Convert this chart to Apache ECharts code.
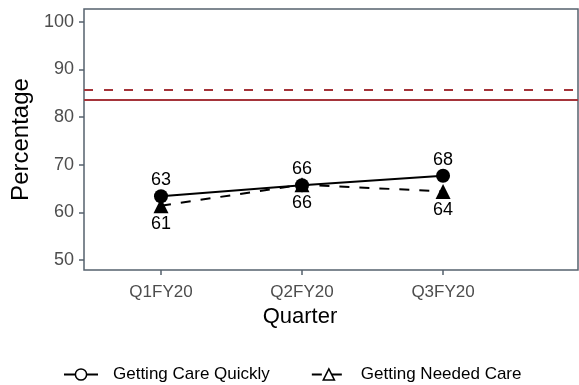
<!DOCTYPE html>
<html>
<head>
<meta charset="utf-8">
<script src="https://cdn.jsdelivr.net/npm/echarts@6/dist/echarts.min.js"></script>
<style>
html,body{margin:0;padding:0;background:#fff;}
#c{width:579px;height:385px;}
</style>
</head>
<body>
<div id="c"></div>
<script>
const quarters = ['Q1FY20', 'Q2FY20', 'Q3FY20'];
const careQuickly = [63.4, 65.7, 67.7];
const neededCare = [61.4, 65.8, 64.4];
const targetDashed = 85.8;
const targetSolid = 83.6;
const yTicks = [50, 60, 70, 80, 90, 100];
const seriesNames = ['Getting Care Quickly', 'Getting Needed Care'];

const FONT = '"Liberation Sans", Arial, sans-serif';
const AX = '#56626e';
const RED = '#a5343a';

const chart = echarts.init(document.getElementById('c'));
const toPts = arr => arr.map((v, i) => [i, v]);

chart.setOption({
  animation: false,
  textStyle: { fontFamily: FONT },
  grid: { left: 84, top: 9, right: 1, bottom: 115, show: true, borderColor: AX, borderWidth: 1.5, backgroundColor: '#fff' },
  xAxis: {
    type: 'value', min: -0.546, max: 2.957,
    name: 'Quarter', nameLocation: 'middle', nameGap: 32,
    nameTextStyle: { fontSize: 22, color: '#000', fontFamily: FONT, padding: [0, 62, 0, 0] },
    axisLine: { show: false, onZero: false },
    axisTick: { show: true, length: 5, lineStyle: { color: AX, width: 1.5 }, customValues: [0, 1, 2] },
    axisLabel: { customValues: [0, 1, 2], formatter: v => quarters[Math.round(v)], fontSize: 17, color: '#4d4d4d', margin: 14, fontFamily: FONT },
    splitLine: { show: false }
  },
  yAxis: {
    type: 'value', min: 47.9, max: 102.7,
    name: 'Percentage', nameLocation: 'middle', nameGap: 45,
    nameTextStyle: { fontSize: 24, color: '#000', fontFamily: FONT },
    axisLine: { show: false, onZero: false },
    axisTick: { show: true, length: 5, lineStyle: { color: AX, width: 1.5 }, customValues: yTicks },
    axisLabel: { customValues: yTicks, fontSize: 18, color: '#4d4d4d', margin: 10, fontFamily: FONT },
    splitLine: { show: false }
  },
  legend: {
    left: 58, top: 361,
    itemWidth: 34, itemHeight: 14, itemGap: 41,
    textStyle: { fontSize: 17, color: '#000', fontFamily: FONT, padding: [0, 0, 0, 10] },
    data: seriesNames.map(n => ({ name: n, itemStyle: { color: '#fff', borderColor: '#000', borderWidth: 1.5 } }))
  },
  series: [
    {
      name: seriesNames[0], type: 'line', data: toPts(careQuickly),
      symbol: 'circle', symbolSize: 14,
      itemStyle: { color: '#000' },
      lineStyle: { color: '#000', width: 2, type: 'solid' },
      label: { show: true, position: 'top', distance: 0, fontSize: 18, color: '#000', fontFamily: FONT, formatter: p => Math.round(p.value[1]) },
      markLine: {
        silent: true, symbol: 'none', label: { show: false },
        data: [
          { yAxis: targetDashed, lineStyle: { color: RED, width: 2, type: [9, 11] } },
          { yAxis: targetSolid, lineStyle: { color: RED, width: 2, type: 'solid' } }
        ]
      },
      z: 3
    },
    {
      name: seriesNames[1], type: 'line', data: toPts(neededCare),
      symbol: 'triangle', symbolSize: 15,
      itemStyle: { color: '#000' },
      lineStyle: { color: '#000', width: 2, type: [10, 10] },
      label: { show: true, position: 'bottom', distance: 2, fontSize: 18, color: '#000', fontFamily: FONT, formatter: p => Math.round(p.value[1]) },
      z: 2
    }
  ]
});
</script>
</body>
</html>
